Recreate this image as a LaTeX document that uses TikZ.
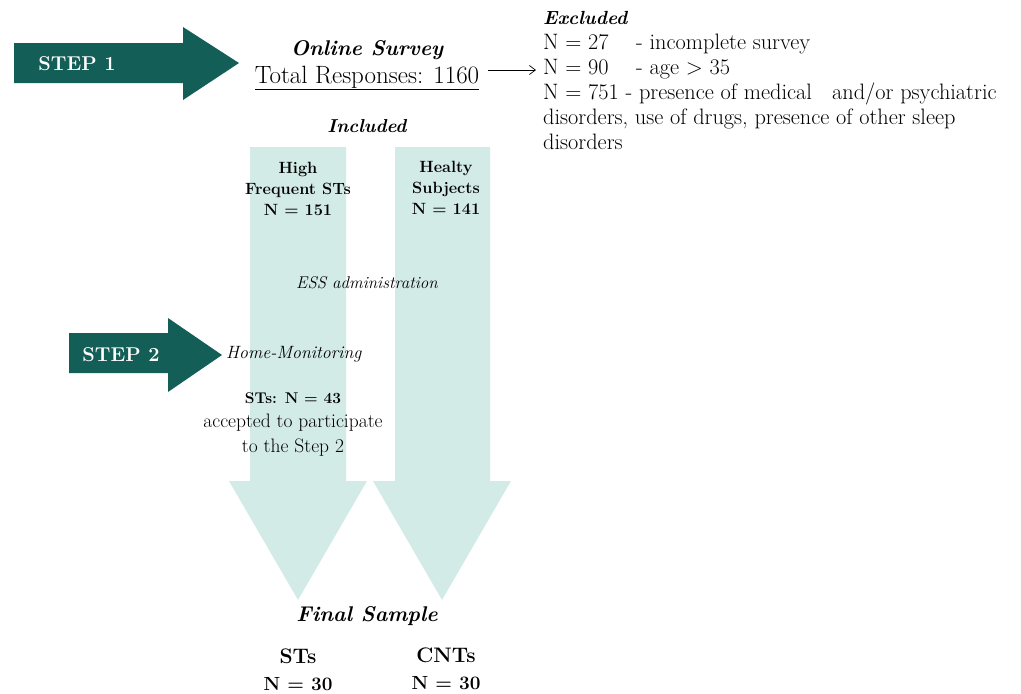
\documentclass[tikz,border=0pt]{standalone}
\usetikzlibrary{positioning,arrows.meta}
\definecolor{stepgreen}{HTML}{135E57}
\definecolor{flowcyan}{HTML}{D3EBE7}
\begin{document}
\begin{tikzpicture}[x=1pt,y=-1pt,
    steptext/.style={text=white,inner sep=0pt,font=\fontsize{20}{22}\selectfont\bfseries},
    titletext/.style={inner sep=0pt,font=\fontsize{21.3}{24}\selectfont\bfseries\itshape},
    grouptext/.style={inner sep=0pt,align=center,font=\fontsize{16.3}{21}\selectfont\bfseries},
    finaltext/.style={inner sep=0pt,align=center,font=\fontsize{19}{27}\selectfont\bfseries},
    bodytext/.style={inner sep=0pt,align=left,font=\fontsize{22.3}{25}\selectfont}]
    \useasboundingbox (0,0) rectangle (1021,694);

    % step arrows
    \fill[stepgreen] (14,43) -- (183,43) -- (183,27) -- (239,63) -- (183,100) -- (183,83) -- (14,83) -- cycle;
    \fill[stepgreen] (69,333) -- (168,333) -- (168,318) -- (222,355) -- (168,392) -- (168,373) -- (69,373) -- cycle;
    \node[steptext] (step1) at (77,64) {STEP 1};
    \node[steptext] (step2) at (121,355) {STEP 2};

    % group arrows
    \fill[flowcyan] (250,147) -- (346,147) -- (346,481) -- (367,481) -- (298,600) -- (229,481) -- (250,481) -- cycle;
    \fill[flowcyan] (395,147) -- (490,147) -- (490,481) -- (511,481) -- (442,600) -- (373,481) -- (395,481) -- cycle;

    \node[titletext] (survey) at (367,50) {Online Survey};
    \node[inner sep=0pt,font=\fontsize{25}{28}\selectfont] (total) at (367,78) {\underline{Total Responses: 1160}};

    \node[bodytext,anchor=north west] (excl) at (543,11) {{\fontsize{19}{25}\selectfont\textbf{\textit{Excluded}}}\\
        \makebox[93pt][l]{N = 27}- incomplete survey\\
        \makebox[93pt][l]{N = 90}- age > 35\\
        N = 751 - presence of medical \ \ and/or psychiatric\\
        disorders, use of drugs, presence of other sleep\\
        disorders};
    \coordinate (exclin) at (536,70);
    \draw[-{Straight Barb[length=6pt,width=9pt]},line width=0.7pt] (total.east |- exclin) ++(9,0) -- (exclin);

    \node[inner sep=0pt,font=\fontsize{18.7}{20}\selectfont\bfseries\itshape] (incl) at (367,126) {Included};
    \node[grouptext] (highst) at (298,189) {High\\Frequent STs\\N = 151};
    \node[grouptext] (healthy) at (446,188) {Healty\\Subjects\\N = 141};
    \node[inner sep=0pt,font=\fontsize{17}{18}\selectfont\itshape] (ess) at (367,283) {ESS administration};
    \node[inner sep=0pt,font=\fontsize{17.8}{18}\selectfont\itshape,anchor=west] (home) at (226,354) {Home-Monitoring};
    \node[inner sep=0pt,align=center,font=\fontsize{19.5}{24.5}\selectfont] (accepted) at (293,424) {{\fontsize{15.5}{24.5}\selectfont\textbf{STs: N = 43}}\\accepted to participate\\to the Step 2};

    \node[titletext] (final) at (367,616) {Final Sample};
    \node[finaltext] (finst) at (298,670) {{\fontsize{21}{27}\selectfont STs}\\N = 30};
    \node[finaltext] (fincnt) at (446,669) {{\fontsize{21}{27}\selectfont CNTs}\\N = 30};
\end{tikzpicture}
\end{document}
